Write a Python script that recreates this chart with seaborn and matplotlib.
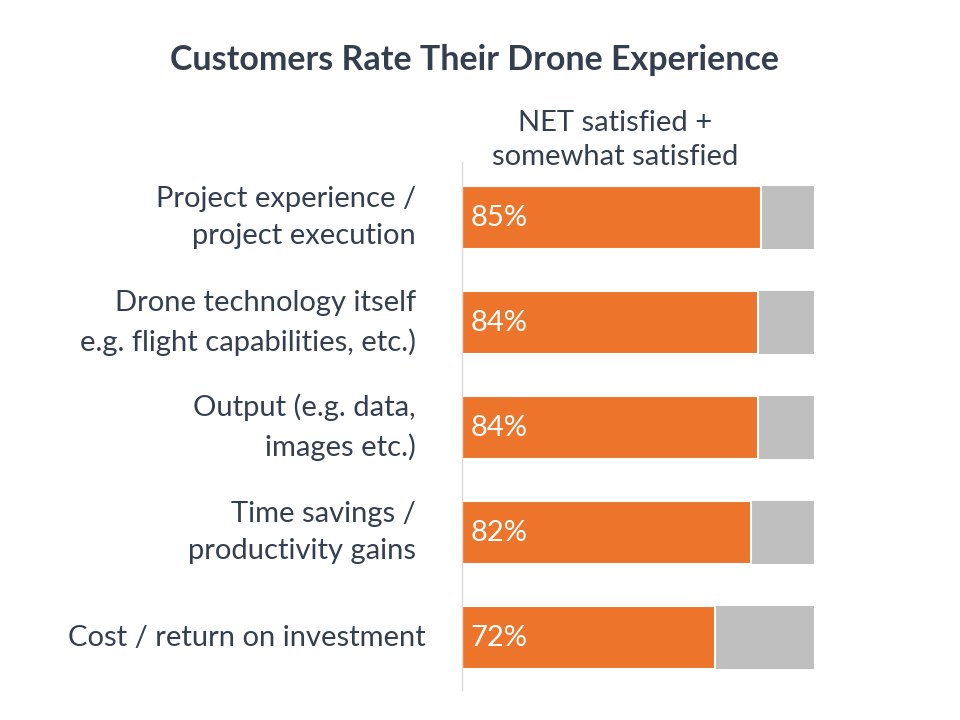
import matplotlib
matplotlib.use("Agg")
import matplotlib.pyplot as plt
import seaborn as sns
import pandas as pd

categories = [
    "Project experience /\nproject execution",
    "Drone technology itself\ne.g. flight capabilities, etc.)",
    "Output (e.g. data,\nimages etc.)",
    "Time savings /\nproductivity gains",
    "Cost / return on investment",
]
satisfied = [85, 84, 84, 82, 72]
total = [100, 100, 100, 100, 100]

title = "Customers Rate Their Drone Experience"
header = "NET satisfied +\nsomewhat satisfied"

sns.set_theme(style="white")
plt.rcParams["font.family"] = ["Lato", "DejaVu Sans"]

df = pd.DataFrame({"cat": categories, "sat": satisfied, "total": total})

fig = plt.figure(figsize=(9.6, 7.2), dpi=100)
ax = fig.add_axes([462 / 960, 1 - 690 / 720, (814 - 462) / 960, (690 - 162) / 720])

sns.barplot(data=df, x="total", y="cat", orient="h", color="#BFBFBF",
            width=0.6, ax=ax, edgecolor="none", saturation=1)
sns.barplot(data=df, x="sat", y="cat", orient="h", color="#EC742B",
            width=0.6, ax=ax, edgecolor="white", linewidth=1.5, saturation=1)

ax.set_xlim(0, 100)
ax.set_ylim(4.5, -0.53)
ax.set_xlabel("")
ax.set_ylabel("")
ax.set_xticks([])
ax.set_yticks(range(len(categories)))
ax.set_yticklabels([])
ax.tick_params(left=False)
for s in ["top", "right", "bottom"]:
    ax.spines[s].set_visible(False)
ax.spines["left"].set_color("#D9D9D9")
ax.spines["left"].set_linewidth(1)

text_color = "#333F4F"
fs = 21
for i, (cat, v) in enumerate(zip(categories, satisfied)):
    xoff = -46 if i < 4 else -36
    ax.annotate(cat, xy=(0, i), xycoords=("axes fraction", "data"),
                xytext=(xoff, 0), textcoords="offset pixels",
                ha="right", va="center", fontsize=fs, color=text_color,
                linespacing=1.55)
    ax.text(2.5, i, f"{v}%", ha="left", va="center", color="white",
            fontsize=fs)

fig.text(475 / 960, 1 - 60 / 720, title, ha="center", va="center",
         fontsize=24.5, fontweight="bold", color=text_color)
fig.text(615 / 960, 1 - 140 / 720, header, ha="center", va="center",
         fontsize=fs, color=text_color, linespacing=1.39)

fig.savefig("out.png", dpi=100, facecolor="white")
